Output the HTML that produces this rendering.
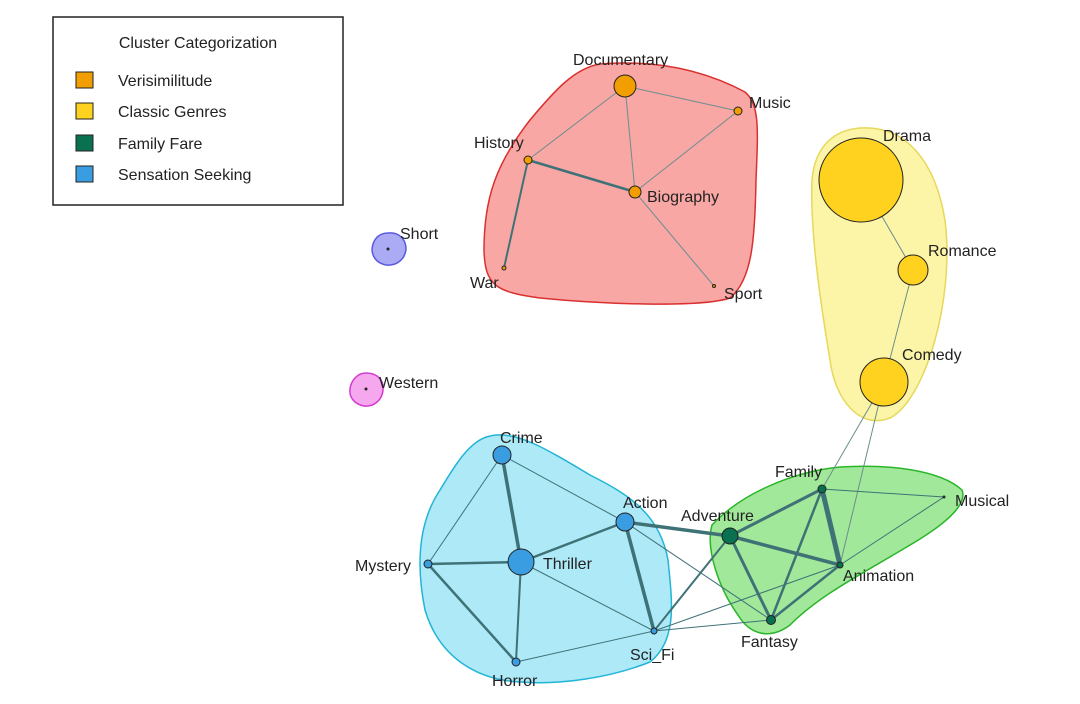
<!DOCTYPE html>
<html><head><meta charset="utf-8"><style>
body{margin:0;background:#fff;}
svg{display:block;font-family:"Liberation Sans",Arial,sans-serif;}
text{font-size:16px;fill:#222;}
</style></head><body>
<svg width="1080" height="704" viewBox="0 0 1080 704">
<!-- legend -->
<rect x="53" y="17" width="290" height="188" fill="#fff" stroke="#222" stroke-width="1.5"/>
<text x="198" y="48" text-anchor="middle">Cluster Categorization</text>
<rect x="76" y="72" width="17" height="16" fill="#f29d00" stroke="#222"/>
<text x="118" y="86">Verisimilitude</text>
<rect x="76" y="103" width="17" height="16" fill="#ffd21f" stroke="#222"/>
<text x="118" y="117">Classic Genres</text>
<rect x="76" y="135" width="17" height="16" fill="#0a7150" stroke="#222"/>
<text x="118" y="149">Family Fare</text>
<rect x="76" y="166" width="17" height="16" fill="#3a9de2" stroke="#222"/>
<text x="118" y="180">Sensation Seeking</text>

<!-- hulls -->
<path d="M600,64 C650,60 700,68 745,92 C760,105 758,130 756,180 C755,240 752,280 730,298 C700,308 600,304 540,298 C495,292 485,285 484,250 C484,200 495,165 530,120 C555,90 575,68 600,64Z" fill="#f9a7a5" stroke="#d93030" stroke-width="1.5"/>
<path d="M860,128 C905,125 935,160 945,220 C955,300 925,400 890,418 C860,430 835,400 830,360 C820,300 810,230 812,180 C815,145 835,130 860,128Z" fill="#fcf4a6" stroke="#e6d85c" stroke-width="1.5"/>
<path d="M712,525 C740,495 790,472 840,467 C890,464 940,470 962,490 C968,505 945,525 905,548 C860,575 820,595 790,625 C770,640 750,635 738,615 C720,590 705,550 712,525Z" fill="#a2e89a" stroke="#2bb52b" stroke-width="1.5"/>
<path d="M490,436 C515,430 545,448 590,475 C630,495 660,515 668,560 C672,600 678,640 650,662 C610,678 560,685 520,682 C480,680 440,660 425,610 C415,560 420,520 440,490 C455,465 470,440 490,436Z" fill="#aee9f8" stroke="#22b5d6" stroke-width="1.5"/>
<path d="M388,233 C400,232 406,240 406,249 C405,260 396,266 386,265 C376,263 372,256 372,249 C373,240 378,233 388,233Z" fill="#aaaaf5" stroke="#5a5ae0" stroke-width="1.5"/>
<path d="M366,373 C378,373 384,381 383,390 C382,401 373,407 364,406 C354,404 349,397 350,389 C351,381 357,373 366,373Z" fill="#f5a8ee" stroke="#d53ad0" stroke-width="1.5"/>

<!-- edges -->
<g stroke="#6b8e8e" fill="none">
<line x1="625" y1="86" x2="738" y2="111" stroke-width="1"/>
<line x1="625" y1="86" x2="528" y2="160" stroke-width="1"/>
<line x1="625" y1="86" x2="635" y2="192" stroke-width="1"/>
<line x1="738" y1="111" x2="635" y2="192" stroke-width="1"/>
<line x1="635" y1="192" x2="714" y2="286" stroke-width="1"/>
<line x1="861" y1="180" x2="913" y2="270" stroke-width="1"/>
<line x1="913" y1="270" x2="884" y2="382" stroke-width="1"/>
<line x1="884" y1="382" x2="822" y2="489" stroke-width="1"/>
<line x1="884" y1="382" x2="840" y2="565" stroke-width="1"/>
</g>
<g stroke="#3f7276" fill="none">
<line x1="528" y1="160" x2="635" y2="192" stroke-width="2.5"/>
<line x1="528" y1="160" x2="504" y2="268" stroke-width="2"/>
<line x1="502" y1="455" x2="521" y2="562" stroke-width="3.5"/>
<line x1="502" y1="455" x2="428" y2="564" stroke-width="1"/>
<line x1="502" y1="455" x2="625" y2="522" stroke-width="1"/>
<line x1="428" y1="564" x2="521" y2="562" stroke-width="2.5"/>
<line x1="428" y1="564" x2="516" y2="662" stroke-width="2.5"/>
<line x1="521" y1="562" x2="516" y2="662" stroke-width="2"/>
<line x1="521" y1="562" x2="625" y2="522" stroke-width="2.5"/>
<line x1="521" y1="562" x2="654" y2="631" stroke-width="1"/>
<line x1="625" y1="522" x2="654" y2="631" stroke-width="3.5"/>
<line x1="625" y1="522" x2="730" y2="536" stroke-width="3.5"/>
<line x1="625" y1="522" x2="771" y2="620" stroke-width="1"/>
<line x1="654" y1="631" x2="516" y2="662" stroke-width="1"/>
<line x1="654" y1="631" x2="730" y2="536" stroke-width="2"/>
<line x1="654" y1="631" x2="771" y2="620" stroke-width="1"/>
<line x1="654" y1="631" x2="840" y2="565" stroke-width="1"/>
<line x1="730" y1="536" x2="822" y2="489" stroke-width="3"/>
<line x1="730" y1="536" x2="840" y2="565" stroke-width="3.5"/>
<line x1="730" y1="536" x2="771" y2="620" stroke-width="3"/>
<line x1="822" y1="489" x2="771" y2="620" stroke-width="2.5"/>
<line x1="822" y1="489" x2="840" y2="565" stroke-width="5"/>
<line x1="822" y1="489" x2="944" y2="497" stroke-width="1"/>
<line x1="771" y1="620" x2="840" y2="565" stroke-width="2.5"/>
<line x1="840" y1="565" x2="944" y2="497" stroke-width="1"/>
</g>

<!-- nodes -->
<g stroke="#222" stroke-width="1">
<circle cx="625" cy="86" r="11" fill="#f29d00"/>
<circle cx="738" cy="111" r="4" fill="#f29d00"/>
<circle cx="528" cy="160" r="4" fill="#f29d00"/>
<circle cx="635" cy="192" r="6" fill="#f29d00"/>
<circle cx="504" cy="268" r="2" fill="#f29d00"/>
<circle cx="714" cy="286" r="1.5" fill="#f29d00"/>
<circle cx="861" cy="180" r="42" fill="#ffd21f"/>
<circle cx="913" cy="270" r="15" fill="#ffd21f"/>
<circle cx="884" cy="382" r="24" fill="#ffd21f"/>
<circle cx="388" cy="249" r="1" fill="#333"/>
<circle cx="366" cy="389" r="1" fill="#333"/>
<circle cx="502" cy="455" r="9" fill="#3a9de2"/>
<circle cx="625" cy="522" r="9" fill="#3a9de2"/>
<circle cx="521" cy="562" r="13" fill="#3a9de2"/>
<circle cx="428" cy="564" r="4" fill="#3a9de2"/>
<circle cx="516" cy="662" r="4" fill="#3a9de2"/>
<circle cx="654" cy="631" r="3" fill="#3a9de2"/>
<circle cx="730" cy="536" r="8" fill="#0a7150"/>
<circle cx="822" cy="489" r="4" fill="#0a7150"/>
<circle cx="840" cy="565" r="3" fill="#0a7150"/>
<circle cx="771" cy="620" r="4.5" fill="#0a7150"/>
<circle cx="944" cy="497" r="1" fill="#0a7150"/>
</g>

<!-- labels -->
<text x="573" y="65">Documentary</text>
<text x="749" y="108">Music</text>
<text x="474" y="148">History</text>
<text x="647" y="202">Biography</text>
<text x="470" y="288">War</text>
<text x="724" y="299">Sport</text>
<text x="883" y="141">Drama</text>
<text x="928" y="256">Romance</text>
<text x="902" y="360">Comedy</text>
<text x="400" y="239">Short</text>
<text x="379" y="388">Western</text>
<text x="500" y="443">Crime</text>
<text x="623" y="508">Action</text>
<text x="681" y="521">Adventure</text>
<text x="775" y="477">Family</text>
<text x="955" y="506">Musical</text>
<text x="843" y="581">Animation</text>
<text x="741" y="647">Fantasy</text>
<text x="543" y="569">Thriller</text>
<text x="355" y="571">Mystery</text>
<text x="492" y="686">Horror</text>
<text x="630" y="660">Sci_Fi</text>
</svg>
</body></html>
